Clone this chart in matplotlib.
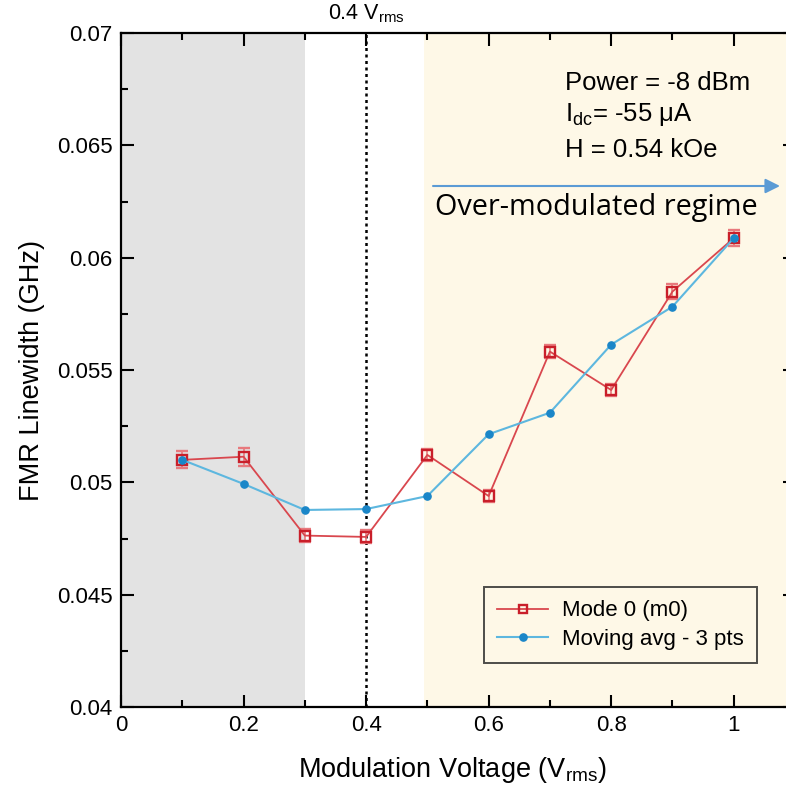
import matplotlib
matplotlib.use("Agg")
import matplotlib.pyplot as plt
from matplotlib.lines import Line2D
from matplotlib.ticker import MultipleLocator, FixedLocator

plt.rcParams["font.family"] = ["Liberation Sans", "DejaVu Sans"]
plt.rcParams["mathtext.fontset"] = "custom"
plt.rcParams["mathtext.rm"] = "Liberation Sans"
plt.rcParams["mathtext.default"] = "regular"

# Modulation voltage (V_rms)
voltage = [0.1, 0.2, 0.3, 0.4, 0.5, 0.6, 0.7, 0.8, 0.9, 1.0]
# FMR linewidth of mode 0 (GHz) and its uncertainty
mode0 = [0.0510, 0.05114, 0.04763, 0.04757, 0.05122, 0.04939, 0.05582, 0.05411, 0.05849, 0.06087]
mode0_err = [0.00038, 0.0004, 0.00028, 0.00029, 0.00026, 0.00026, 0.00028, 0.00028, 0.00032, 0.00034]
# 3-point moving average (GHz)
moving_avg = [0.0510, 0.04993, 0.04877, 0.04881, 0.04939, 0.05214, 0.05310, 0.05613, 0.05782, 0.06087]

x_ticks = [0, 0.2, 0.4, 0.6, 0.8, 1.0]
x_ticklabels = ["0", "0.2", "0.4", "0.6", "0.8", "1"]
y_ticks = [0.04, 0.045, 0.05, 0.055, 0.06, 0.065, 0.07]
y_ticklabels = ["0.04", "0.045", "0.05", "0.055", "0.06", "0.065", "0.07"]

RED_LINE = "#d9474e"
RED_MARK = "#c91f2a"
BLUE_LINE = "#5db7df"
BLUE_MARK = "#1a86c8"

W, H = 786, 790
fig = plt.figure(figsize=(W / 100, H / 100), dpi=100)
ax = fig.add_axes([121 / W, 1 - 707 / H, 674 / W, 674 / H])
ax.set_xlim(0, 1.1)
ax.set_ylim(0.04, 0.07)

# regime shading and reference line
ax.axvspan(0, 0.3, color="#e3e3e3", lw=0, zorder=0)
ax.axvspan(0.495, 1.1, color="#fef8e7", lw=0, zorder=0)
ax.axvline(0.4, color="black", ls=(0, (1.2, 1.4)), lw=1.8, zorder=1)

ax.errorbar(voltage, mode0, yerr=mode0_err, color=RED_LINE, lw=1.3,
            marker="s", ms=6.5, mfc="none", mec=RED_MARK, mew=1.7,
            ecolor="#e8797d", elinewidth=1.2, capsize=4.5, capthick=1.2,
            zorder=3)
ax.plot(voltage, moving_avg, color=BLUE_LINE, lw=1.5, marker="o", ms=5.2,
        mfc=BLUE_MARK, mec=BLUE_MARK, zorder=4)

ax.xaxis.set_major_locator(FixedLocator(x_ticks))
ax.set_xticklabels(x_ticklabels)
ax.xaxis.set_minor_locator(MultipleLocator(0.1))
ax.yaxis.set_major_locator(FixedLocator(y_ticks))
ax.set_yticklabels(y_ticklabels)
ax.yaxis.set_minor_locator(MultipleLocator(0.0025))
ax.tick_params(which="both", direction="in", top=True, right=True,
               width=1.5, labelsize=16, pad=6)
ax.tick_params(which="major", length=9)
ax.tick_params(which="minor", length=5)
for s in ax.spines.values():
    s.set_linewidth(1.6)

fig.text(452 / W, 1 - 777 / H, "Modulation Voltage (V$_{rms}$)", fontsize=19.5,
         ha="center", va="baseline")
fig.text(32 / W, 1 - 370 / H, "FMR Linewidth (GHz)", fontsize=19.5,
         ha="center", va="center", rotation=90)
fig.text(328 / W, 1 - 19 / H, "0.4 V$_{rms}$", fontsize=15.5, ha="left", va="baseline")

fig.text(565 / W, 1 - 90 / H, "Power = -8 dBm", fontsize=18.5, va="baseline")
fig.text(565 / W, 1 - 121 / H, "I$_{dc}$= -55 μA", fontsize=18.5, va="baseline")
fig.text(565 / W, 1 - 157 / H, "H = 0.54 kOe", fontsize=18.5, va="baseline")

ax.annotate("", xy=(780, H - 186), xytext=(433, H - 186), xycoords="figure pixels",
            textcoords="figure pixels",
            arrowprops=dict(arrowstyle="-|>", color="#5b9bd5", lw=1.5,
                            mutation_scale=22, shrinkA=0, shrinkB=0))
fig.text(435 / W, 1 - 215 / H, "Over-modulated regime", fontsize=20.8,
         family=["Open Sans", "DejaVu Sans"], va="baseline")

handles = [
    Line2D([], [], color=RED_LINE, lw=1.3, marker="s", ms=6, mfc="none",
           mec=RED_MARK, mew=1.7),
    Line2D([], [], color=BLUE_LINE, lw=1.5, marker="o", ms=5.2,
           mfc=BLUE_MARK, mec=BLUE_MARK),
]
leg = ax.legend(handles, ["Mode 0 (m0)", "Moving avg - 3 pts"],
                loc="upper left", bbox_to_anchor=(484 / W, 1 - 587 / H),
                bbox_transform=fig.transFigure, borderaxespad=0, fontsize=16,
                frameon=True, fancybox=False, handlelength=2.3,
                handletextpad=0.6, labelspacing=0.35, borderpad=0.6)
leg.get_frame().set_edgecolor("#222222")
leg.get_frame().set_linewidth(1.4)
leg.get_frame().set_facecolor("none")

fig.savefig("out.png", dpi=100)
